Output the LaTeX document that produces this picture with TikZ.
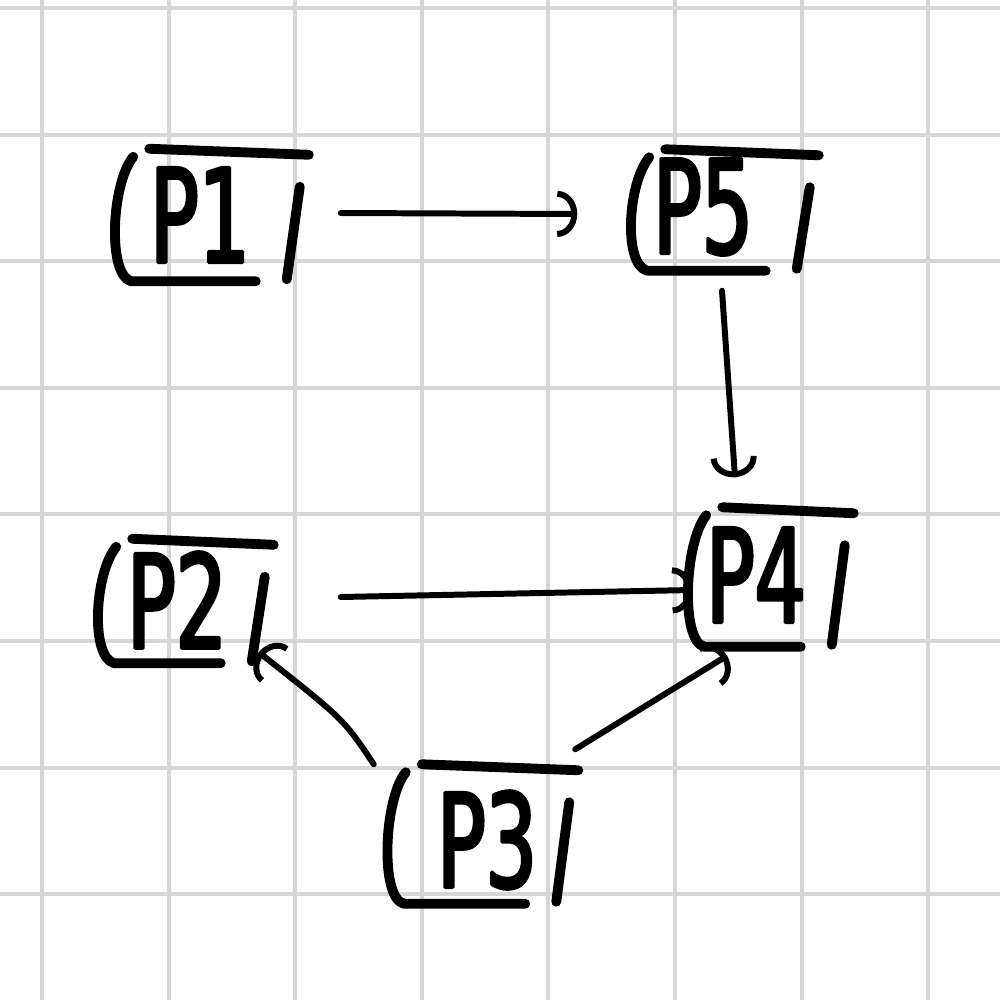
\documentclass[tikz,border=0pt]{standalone}
\usepackage{fontspec}
\newfontfamily\handfont[FakeStretch=0.62,FakeBold=2.5]{DejaVu Sans}
\usetikzlibrary{arrows.meta,calc}
\definecolor{gridgray}{RGB}{214,214,214}
\newcommand\handframe[1]{%
  \draw[stroke] ($(#1.north west)+(22,8)$) .. controls ($(#1.north west)+(0,35)$) and ($(#1.south west)+(-4,-8)$) .. ($(#1.south west)+(20,-2)$) -- ($(#1.south east)+(-45,-2)$);
  \draw[stroke] ($(#1.north west)+(38,0)$) -- ($(#1.north east)+(8,6)$);
  \draw[stroke] ($(#1.south east)+(-14,-4)$) -- ($(#1.north east)+(-1,38)$);
}
\begin{document}
\begin{tikzpicture}[x=0.01cm,y=-0.01cm,line cap=round,line join=round,
  gridline/.style={draw=gridgray,line width=1.1pt},
  boxn/.style={inner sep=0pt,draw=none},
  ptext/.style={inner sep=0pt,font=\handfont\fontsize{37}{37}\selectfont},
  stroke/.style={line width=2.8pt},
  conn/.style={line width=1.7pt,-{Arc Barb[length=0.2cm,width=0.46cm,line width=1.7pt]}}]
\useasboundingbox (0,0) rectangle (1000,1000);
\foreach \i in {0,...,7}{
  \draw[gridline] ({42+126.6*\i},0) -- ++(0,1000);
  \draw[gridline] (0,{8+126.6*\i}) -- ++(1000,0);
}
% boxes
\node[boxn,minimum width=1.88cm,minimum height=1.33cm] (p1) at (206,216) {};
\node[boxn,minimum width=1.82cm,minimum height=1.22cm] (p5) at (719,211) {};
\node[boxn,minimum width=1.70cm,minimum height=1.25cm] (p2) at (180,602) {};
\node[boxn,minimum width=1.60cm,minimum height=1.40cm] (p4) at (765,578) {};
\node[boxn,minimum width=1.85cm,minimum height=1.40cm] (p3) at (477,835) {};
% labels
\node[ptext] (t1) at (200,215) {P1};
\node[ptext] (t5) at (703,207) {P5};
\node[ptext] (t2) at (177,600) {P2};
\node[ptext] (t4) at (756,575) {P4};
\node[ptext] (t3) at (487,840) {P3};
\handframe{p1}
\handframe{p5}
\handframe{p2}
\handframe{p4}
\handframe{p3}
% connectors
\draw[conn] ($(p1.east)+(40,-3)$) -- ($(p5.west)+(-50,3)$);
\draw[conn] ($(p5.south)+(3,18)$) -- ($(p4.north)+(-30,-30)$);
\draw[conn] ($(p2.east)+(75,-5)$) -- ($(p4.west)+(8,12)$);
\draw[conn] ($(p3.north west)+(-10,0)$) .. controls ($(p3.north west)+(-40,-45)$) .. ($(p2.south east)+(-7,-13)$);
\draw[conn] ($(p3.north east)+(5,-15)$) -- ($(p4.south)+(-38,7)$);
\end{tikzpicture}
\end{document}
